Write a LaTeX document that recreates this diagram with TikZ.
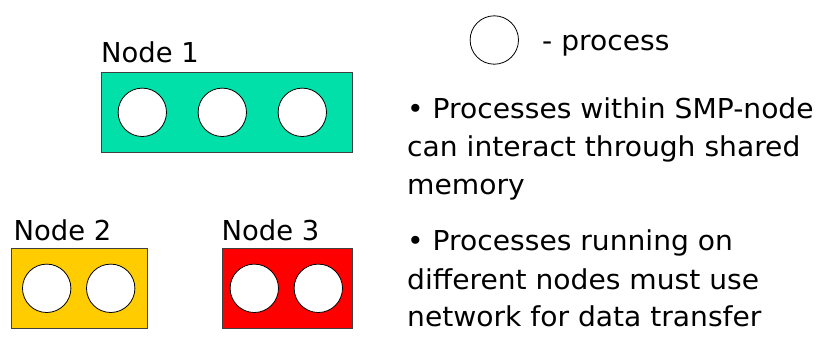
\documentclass[tikz,border=0pt]{standalone}
\usepackage{fontspec}
\setmainfont{DejaVu Sans}
\newfontfamily\notefont[FakeStretch=1.027]{DejaVu Sans}
\definecolor{nodegreen}{RGB}{0,224,168}
\definecolor{nodeyellow}{RGB}{255,204,0}
\definecolor{nodered}{RGB}{255,0,0}
\begin{document}
\begin{tikzpicture}[x=1pt,y=-1pt,
  smpbox/.style={rectangle, draw=black!75, line width=0.8pt, inner sep=0pt, minimum height=80pt},
  proc/.style={circle, draw=black, fill=white, line width=0.8pt, minimum size=48.4pt, inner sep=0pt},
  lbl/.style={anchor=base west, inner sep=0pt, font=\fontsize{27.4}{38}\selectfont},
  note/.style={lbl, font=\notefont\fontsize{27.4}{38}\selectfont}]
\useasboundingbox (0,0) rectangle (826,349);

% SMP nodes
\node[smpbox, fill=nodegreen, minimum width=250.6pt] (n1) at (227,112.3) {};
\node[smpbox, fill=nodeyellow, minimum width=135.6pt] (n2) at (79.5,288.3) {};
\node[smpbox, fill=nodered, minimum width=129.6pt] (n3) at (287.5,288.3) {};

% processes
\node[proc] (p11) at (142.3,112.3) {};
\node[proc] (p12) at (222.3,112.3) {};
\node[proc] (p13) at (302.3,112.3) {};
\node[proc] (p21) at (46.7,288.3) {};
\node[proc] (p22) at (110.7,288.3) {};
\node[proc] (p31) at (254.3,288.3) {};
\node[proc] (p32) at (318.3,288.3) {};

% node labels
\node[lbl] (l1) at (101,62.3) {Node 1};
\node[lbl] (l2) at (13.5,240) {Node 2};
\node[lbl] (l3) at (221.5,240) {Node 3};

% legend
\node[proc] (leg) at (494.3,40) {};
\node[note] (legtxt) at (542,50.7) {- process};

% notes
\node[note] (a1) at (407,118) {• Processes within SMP-node};
\node[note] (a2) at (407,156) {can interact through shared};
\node[note] (a3) at (407,194) {memory};
\node[note] (b1) at (407,250.7) {• Processes running on};
\node[note] (b2) at (407,289) {different nodes must use};
\node[note] (b3) at (407,326) {network for data transfer};
\end{tikzpicture}
\end{document}
